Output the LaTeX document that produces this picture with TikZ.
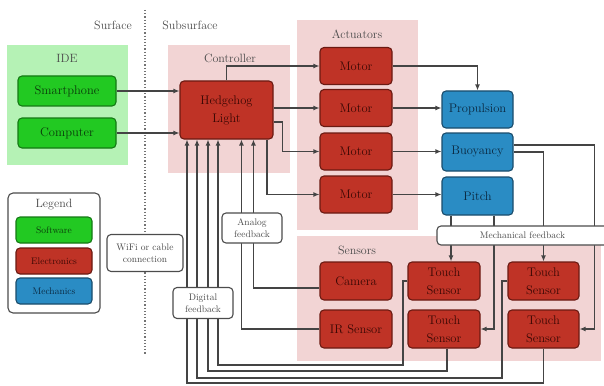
\documentclass[tikz,border=0pt]{standalone}
\usetikzlibrary{arrows.meta}
\definecolor{sw}{HTML}{22C922}
\definecolor{swd}{HTML}{147A14}
\definecolor{swt}{HTML}{0A3A0A}
\definecolor{el}{HTML}{BF3326}
\definecolor{eld}{HTML}{6B1A12}
\definecolor{elt}{HTML}{3A0804}
\definecolor{me}{HTML}{2A8CC4}
\definecolor{med}{HTML}{1A4C6B}
\definecolor{met}{HTML}{0A2840}
\definecolor{idebg}{HTML}{B5F2B5}
\definecolor{pinkbg}{HTML}{F2D4D4}
\definecolor{wirec}{HTML}{444444}
\definecolor{titlec}{HTML}{4A4A4A}
\tikzset{
  blk/.style={rounded corners=4pt, line width=1.1pt, align=center, inner sep=0pt,
    minimum width=72pt, minimum height=37pt, font=\fontsize{12.5}{18}\selectfont},
  swbox/.style={blk, fill=sw, draw=swd, text=swt},
  elbox/.style={blk, fill=el, draw=eld, text=elt},
  mebox/.style={blk, fill=me, draw=med, text=met},
  legitem/.style={rounded corners=4pt, line width=1.1pt, inner sep=0pt,
    minimum width=76pt, minimum height=26pt, font=\fontsize{9.5}{11}\selectfont},
  bgbox/.style={fill=#1, draw=none, inner sep=0pt},
  ttl/.style={text=titlec, font=\fontsize{12}{14}\selectfont},
  lbl/.style={draw=black!70, fill=white, rounded corners=4pt, line width=1.1pt,
    align=center, inner sep=0pt, text=titlec, font=\fontsize{9.5}{12}\selectfont},
  wire/.style={draw=wirec, line width=1.2pt},
  arr/.style={wire, -{Latex[length=6pt,width=5pt]}},
}
\begin{document}
\begin{tikzpicture}[x=1pt, y=-1pt]
\useasboundingbox (0,0) rectangle (604,385);
% background groups
\node[bgbox=idebg, minimum width=121pt, minimum height=120pt] (idebg) at (67.5,105) {};
\node[bgbox=pinkbg, minimum width=122pt, minimum height=128pt] (ctrlbg) at (229,109) {};
\node[bgbox=pinkbg, minimum width=121pt, minimum height=210pt] (actbg) at (357.5,125) {};
\node[bgbox=pinkbg, minimum width=304pt, minimum height=125pt] (senbg) at (449,298.5) {};
% titles
\node[ttl] (tsurf) at (113,25) {Surface};
\node[ttl] (tsub) at (190,25) {Subsurface};
\node[ttl] (tide) at (67,58) {IDE};
\node[ttl] (tctrl) at (230,58) {Controller};
\node[ttl] (tact) at (357,34) {Actuators};
\node[ttl] (tsen) at (357,250) {Sensors};
% divider
\coordinate (dtop) at (145,10);
\coordinate (dbot) at (145,355);
\draw[black!55, dotted, line width=1.2pt] (dtop) -- (dbot);
% nodes
\node[swbox, minimum width=98pt, minimum height=30pt] (smart) at (67,91) {Smartphone};
\node[swbox, minimum width=98pt, minimum height=30pt] (comp) at (67,133) {Computer};
\node[elbox, minimum width=93pt, minimum height=58pt] (hh) at (226.5,110) {Hedgehog\\Light};
\node[elbox] (m1) at (356,66) {Motor};
\node[elbox] (m2) at (356,108) {Motor};
\node[elbox] (m3) at (356,151.5) {Motor};
\node[elbox] (m4) at (356,194.5) {Motor};
\node[mebox, minimum width=71pt] (prop) at (477.5,109.5) {Propulsion};
\node[mebox, minimum width=71pt, minimum height=38pt] (buoy) at (477.5,152) {Buoyancy};
\node[mebox, minimum width=71pt, minimum height=38pt] (pitch) at (477.5,196) {Pitch};
\node[elbox, minimum height=38pt] (cam) at (356,281) {Camera};
\node[elbox, minimum height=38pt] (ir) at (356,329) {IR Sensor};
\node[elbox, minimum height=38pt] (t1) at (444,281) {Touch\\Sensor};
\node[elbox, minimum height=38pt] (t2) at (444,329) {Touch\\Sensor};
\node[elbox, minimum height=38pt, minimum width=71pt] (t3) at (543.5,281) {Touch\\Sensor};
\node[elbox, minimum height=38pt, minimum width=71pt] (t4) at (543.5,329) {Touch\\Sensor};
% legend
\node[draw=black!70, fill=white, rounded corners=5pt, line width=1.1pt, minimum width=92pt, minimum height=120pt] (legbox) at (54,253) {};
\node[ttl] (legttl) at (54,205) {Legend};
\node[legitem, fill=sw, draw=swd, text=swt] (lsw) at (54,230) {Software};
\node[legitem, fill=el, draw=eld, text=elt] (lel) at (54,261) {Electronics};
\node[legitem, fill=me, draw=med, text=met] (lme) at (54,291) {Mechanics};
% wires: IDE to controller
\draw[arr] (smart.east) -- (smart.east -| hh.west);
\draw[arr] (comp.east) -- (comp.east -| hh.west);
% controller to motors
\draw[arr] (hh.north) |- (m1.west);
\draw[arr] (hh.east |- m2.west) -- (m2.west);
\draw[arr] ([yshift=-12pt]hh.east) -- ++(9,0) |- (m3.west);
\draw[arr] ([xshift=-6.5pt]hh.south east) |- (m4.west);
% motors to mechanics
\draw[arr] (m1.east) -| (prop.north);
\draw[arr] (m2.east) -- (m2.east -| prop.west);
\draw[arr] (m3.east) -- (m3.east -| buoy.west);
\draw[arr] (m4.east) -- (m4.east -| pitch.west);
% mechanical feedback
\draw[arr] ([xshift=-26.5pt]pitch.south) -- ([xshift=-26.5pt]pitch.south |- t1.north);
\draw[arr] ([xshift=16.5pt]pitch.south) |- (t2.east);
\draw[arr] ([yshift=7pt]buoy.east) -- ++(81,0) |- (t4.east);
\draw[arr] (buoy.east) -| (t3.north);
% analog feedback
\draw[arr] ([yshift=-7pt]cam.west) -| ([xshift=74pt]hh.south west);
\draw[arr] (ir.west) -| ([xshift=62pt]hh.south west);
% digital feedback
\coordinate (c1) at (403,365);
\coordinate (c2) at (208,371);
\coordinate (c3) at (502,378);
\coordinate (c4) at (187,383);
\coordinate (r1) at (218,365);
\coordinate (r3) at (197,378);
\draw[arr] (t1.west) -| (c1) -- (r1) -- (r1 |- hh.south);
\draw[arr] ([xshift=3pt]t2.south) |- (c2) -- (c2 |- hh.south);
\draw[arr] (t3.west) -| (c3) -- (r3) -- (r3 |- hh.south);
\draw[arr] (t4.south) |- (c4) -- (c4 |- hh.south);
% labels on top
\node[lbl, minimum width=76pt, minimum height=37pt] (wifi) at (145,253) {WiFi or cable\\connection};
\node[lbl, minimum width=60pt, minimum height=30pt] (analog) at (252,228) {Analog\\feedback};
\node[lbl, minimum width=60pt, minimum height=31pt] (digital) at (203,303) {Digital\\feedback};
\node[lbl, minimum width=175pt, minimum height=19pt, text width=175pt, align=center] (mech) at (524.5,235.5) {\hspace*{-4pt}Mechanical feedback};
\end{tikzpicture}
\end{document}
